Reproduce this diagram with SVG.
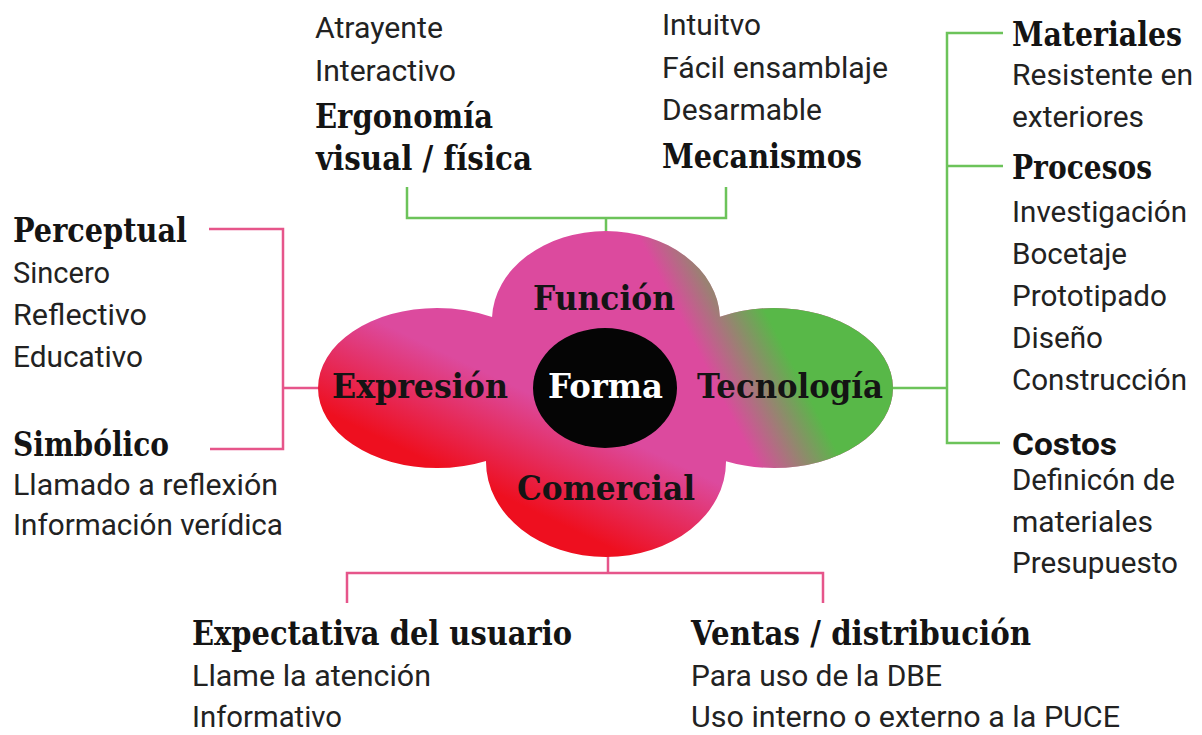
<svg xmlns="http://www.w3.org/2000/svg" width="1202" height="735" viewBox="0 0 1202 735">
<style>
.h{font-family:"DejaVu Serif","Liberation Serif",serif;font-weight:bold;font-size:33px;fill:#141414}
.t{font-family:Roboto,"Liberation Sans",sans-serif;font-size:30px;fill:#222}
.s{font-family:Roboto,"Liberation Sans",sans-serif;font-weight:bold;font-size:31px;fill:#141414}
.p{font-family:"DejaVu Serif","Liberation Serif",serif;font-weight:bold;font-size:34px;fill:#141414}
.g{fill:none;stroke:#6cc35a;stroke-width:2.5}
.r{fill:none;stroke:#e6558a;stroke-width:2.5}
</style>
<defs>
<linearGradient id="rp" gradientUnits="userSpaceOnUse" x1="420" y1="470" x2="470" y2="365">
<stop offset="0.1" stop-color="#ee0f1f"/>
<stop offset="1" stop-color="#dc4a9e"/>
</linearGradient>
<linearGradient id="pg" gradientUnits="userSpaceOnUse" x1="700" y1="356" x2="770" y2="320">
<stop offset="0" stop-color="#58b848" stop-opacity="0"/>
<stop offset="1" stop-color="#58b848" stop-opacity="1"/>
</linearGradient>
<clipPath id="petals">
<ellipse cx="606" cy="320" rx="114" ry="89"/>
<ellipse cx="437" cy="388" rx="119" ry="80"/>
<ellipse cx="774" cy="388" rx="119" ry="80"/>
<ellipse cx="606" cy="462" rx="120" ry="95"/>
<rect x="500" y="320" width="210" height="140"/>
</clipPath>
</defs>
<rect width="1202" height="735" fill="#fff"/>

<g id="connectors">
<path class="g" d="M407 187V218H726V187M606 218V232"/>
<path class="g" d="M1003 33H947V443H1000M947 166H1003M893 388H947"/>
<path class="r" d="M209 229H283V449H210M283 388H319"/>
<path class="r" d="M608 556V573M347 603V573H823V603"/>
</g>

<g id="flower">
<g clip-path="url(#petals)">
<rect x="300" y="220" width="610" height="350" fill="url(#rp)"/>
<rect x="300" y="220" width="610" height="350" fill="url(#pg)"/>
</g>
<ellipse cx="605" cy="388" rx="72" ry="60" fill="#050505"/>
<text class="p" x="533" y="310" textLength="142" lengthAdjust="spacingAndGlyphs">Función</text>
<text class="p" x="332" y="398" textLength="176" lengthAdjust="spacingAndGlyphs">Expresión</text>
<text class="p" x="548" y="398" textLength="115" lengthAdjust="spacingAndGlyphs" style="fill:#fff">Forma</text>
<text class="p" x="697" y="398" textLength="186" lengthAdjust="spacingAndGlyphs">Tecnología</text>
<text class="p" x="517" y="500" textLength="178" lengthAdjust="spacingAndGlyphs">Comercial</text>
</g>

<g id="ergonomia">
<text class="t" x="315" y="38" textLength="128" lengthAdjust="spacingAndGlyphs">Atrayente</text>
<text class="t" x="315" y="81" textLength="141" lengthAdjust="spacingAndGlyphs">Interactivo</text>
<text class="h" x="315" y="128" textLength="178" lengthAdjust="spacingAndGlyphs">Ergonomía</text>
<text class="h" x="316" y="170" textLength="216" lengthAdjust="spacingAndGlyphs">visual / física</text>
</g>

<g id="mecanismos">
<text class="t" x="662" y="35" textLength="99" lengthAdjust="spacingAndGlyphs">Intuitvo</text>
<text class="t" x="662" y="78" textLength="226" lengthAdjust="spacingAndGlyphs">Fácil ensamblaje</text>
<text class="t" x="662" y="120" textLength="160" lengthAdjust="spacingAndGlyphs">Desarmable</text>
<text class="h" x="662" y="168" textLength="200" lengthAdjust="spacingAndGlyphs">Mecanismos</text>
</g>

<g id="materiales">
<text class="h" x="1012" y="46" textLength="170" lengthAdjust="spacingAndGlyphs">Materiales</text>
<text class="t" x="1012" y="85" textLength="181" lengthAdjust="spacingAndGlyphs">Resistente en</text>
<text class="t" x="1012" y="127" textLength="132" lengthAdjust="spacingAndGlyphs">exteriores</text>
</g>

<g id="procesos">
<text class="h" x="1012" y="179" textLength="140" lengthAdjust="spacingAndGlyphs">Procesos</text>
<text class="t" x="1012" y="222" textLength="175" lengthAdjust="spacingAndGlyphs">Investigación</text>
<text class="t" x="1012" y="264" textLength="115" lengthAdjust="spacingAndGlyphs">Bocetaje</text>
<text class="t" x="1012" y="306" textLength="155" lengthAdjust="spacingAndGlyphs">Prototipado</text>
<text class="t" x="1012" y="348" textLength="91" lengthAdjust="spacingAndGlyphs">Diseño</text>
<text class="t" x="1012" y="390" textLength="175" lengthAdjust="spacingAndGlyphs">Construcción</text>
</g>

<g id="costos">
<text class="s" x="1012" y="455" textLength="105" lengthAdjust="spacingAndGlyphs">Costos</text>
<text class="t" x="1012" y="490" textLength="163" lengthAdjust="spacingAndGlyphs">Definicón de</text>
<text class="t" x="1012" y="532" textLength="141" lengthAdjust="spacingAndGlyphs">materiales</text>
<text class="t" x="1012" y="573" textLength="166" lengthAdjust="spacingAndGlyphs">Presupuesto</text>
</g>

<g id="perceptual">
<text class="h" x="13" y="242" textLength="174" lengthAdjust="spacingAndGlyphs">Perceptual</text>
<text class="t" x="13" y="283" textLength="97" lengthAdjust="spacingAndGlyphs">Sincero</text>
<text class="t" x="13" y="325" textLength="134" lengthAdjust="spacingAndGlyphs">Reflectivo</text>
<text class="t" x="13" y="367" textLength="130" lengthAdjust="spacingAndGlyphs">Educativo</text>
</g>

<g id="simbolico">
<text class="h" x="13" y="456" textLength="156" lengthAdjust="spacingAndGlyphs">Simbólico</text>
<text class="t" x="13" y="495" textLength="265" lengthAdjust="spacingAndGlyphs">Llamado a reflexión</text>
<text class="t" x="13" y="535" textLength="270" lengthAdjust="spacingAndGlyphs">Información verídica</text>
</g>

<g id="expectativa">
<text class="h" x="192" y="645" textLength="380" lengthAdjust="spacingAndGlyphs">Expectativa del usuario</text>
<text class="t" x="192" y="686" textLength="239" lengthAdjust="spacingAndGlyphs">Llame la atención</text>
<text class="t" x="192" y="727" textLength="150" lengthAdjust="spacingAndGlyphs">Informativo</text>
</g>

<g id="ventas">
<text class="h" x="691" y="645" textLength="340" lengthAdjust="spacingAndGlyphs">Ventas / distribución</text>
<text class="t" x="691" y="686" textLength="251" lengthAdjust="spacingAndGlyphs">Para uso de la DBE</text>
<text class="t" x="691" y="727" textLength="429" lengthAdjust="spacingAndGlyphs">Uso interno o externo a la PUCE</text>
</g>
</svg>
